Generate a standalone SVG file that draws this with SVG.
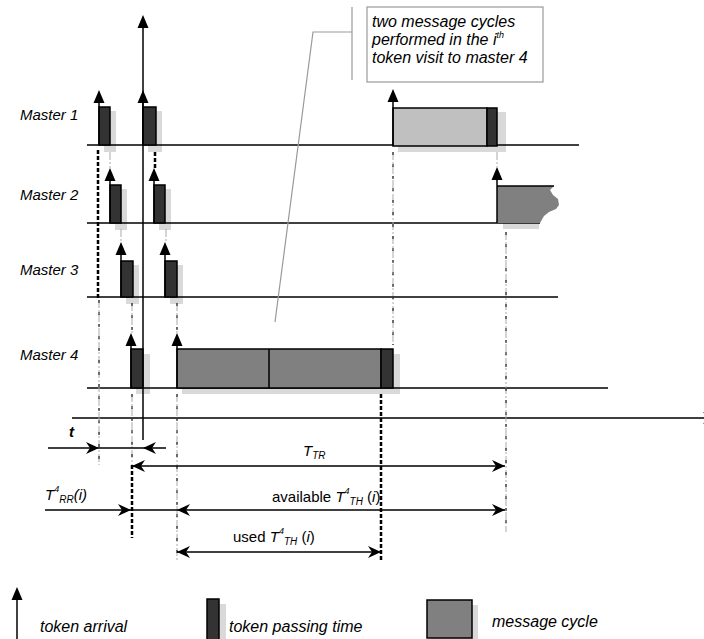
<svg xmlns="http://www.w3.org/2000/svg" width="704" height="639" viewBox="0 0 704 639">
<style>
.tl{stroke:#000;stroke-width:1.6;fill:none}
.ln{stroke:#000;stroke-width:1.5;fill:none}
.dk{fill:#333;stroke:#000;stroke-width:1.5}
.mc{fill:#808080;stroke:#000;stroke-width:1.5}
.lt{fill:#c0c0c0;stroke:#000;stroke-width:1.5}
.sh{fill:#d9d9d9}
.dd{stroke:#aaa;stroke-width:1;stroke-dasharray:8 2 2 2;fill:none}
.dk2{stroke:#000;stroke-width:1;stroke-dasharray:3 9;fill:none}
.tk{stroke:#000;stroke-width:2.5;stroke-dasharray:4 2;fill:none}
.gr{stroke:#999;stroke-width:1.2;fill:none}
.t{font-family:"Liberation Sans",Arial,sans-serif;font-style:italic;font-size:15px;fill:#000}
.n{font-family:"Liberation Sans",Arial,sans-serif;font-size:15px;fill:#000}
.c{font-size:16px}
.sub{font-size:10px}
.sup{font-size:9px}
</style>
<defs>
<path id="ta" d="M0,0 L-5.5,13 L5.5,13 Z" fill="#000"/>
<path id="ah" d="M0,0 L-13,-6 L-9,0 L-13,6 Z" fill="#000"/>
</defs>

<g id="master1">
<text class="t" x="20" y="120">Master 1</text>
<rect class="sh" x="104" y="111" width="12" height="41"/>
<rect class="sh" x="148" y="111" width="14" height="41"/>
<rect class="sh" x="398" y="112" width="108" height="40"/>
<line class="tl" x1="87" y1="145" x2="579" y2="145"/>
<rect class="dk" x="99" y="107" width="11" height="38"/>
<rect class="dk" x="143" y="107" width="13" height="38"/>
<rect class="lt" x="393" y="108" width="94" height="38"/>
<rect class="dk" x="487" y="108" width="10" height="38"/>
<line class="ln" x1="99" y1="145" x2="99" y2="101"/><use href="#ta" x="99" y="90"/>
<line class="ln" x1="143" y1="145" x2="143" y2="101"/><use href="#ta" x="143" y="90"/>
<line class="ln" x1="393" y1="146" x2="393" y2="100"/><use href="#ta" x="393" y="89"/>
</g>

<g id="master2">
<text class="t" x="20" y="200">Master 2</text>
<rect class="sh" x="115" y="189" width="12" height="41"/>
<rect class="sh" x="159" y="189" width="12" height="41"/>
<rect class="sh" x="503" y="223" width="36" height="6"/>
<line class="tl" x1="87" y1="223" x2="540" y2="223"/>
<rect class="dk" x="110" y="185" width="11" height="38"/>
<rect class="dk" x="154" y="185" width="11" height="38"/>
<path d="M497,186 L554,186 L550,190 L553,195 L558,199 L559,205 L556,209 L549,212 L544,216 L540,223 L497,223 Z" fill="#808080"/>
<line class="ln" x1="497" y1="186" x2="554" y2="186"/>
<line class="ln" x1="110" y1="223" x2="110" y2="179"/><use href="#ta" x="110" y="168"/>
<line class="ln" x1="154" y1="223" x2="154" y2="179"/><use href="#ta" x="154" y="168"/>
<line class="ln" x1="497" y1="223" x2="497" y2="178"/><use href="#ta" x="497" y="167"/>
</g>

<g id="master3">
<text class="t" x="20" y="275">Master 3</text>
<rect class="sh" x="126" y="265" width="13" height="39"/>
<rect class="sh" x="170" y="265" width="13" height="39"/>
<line class="tl" x1="87" y1="297" x2="558" y2="297"/>
<rect class="dk" x="121" y="261" width="12" height="36"/>
<rect class="dk" x="165" y="261" width="12" height="36"/>
<line class="ln" x1="121" y1="297" x2="121" y2="253"/><use href="#ta" x="121" y="242"/>
<line class="ln" x1="165" y1="297" x2="165" y2="253"/><use href="#ta" x="165" y="242"/>
</g>

<g id="master4">
<text class="t" x="20" y="360">Master 4</text>
<rect class="sh" x="136" y="354" width="14" height="40"/>
<rect class="sh" x="182" y="354" width="218" height="40"/>
<line class="tl" x1="87" y1="388" x2="608" y2="388"/>
<rect class="dk" x="131" y="349" width="12" height="39"/>
<rect class="mc" x="177" y="349" width="204" height="39"/>
<line class="ln" x1="269" y1="349" x2="269" y2="388"/>
<rect class="dk" x="381" y="349" width="12" height="39"/>
<line class="ln" x1="131" y1="388" x2="131" y2="344"/><use href="#ta" x="131" y="333"/>
<line class="ln" x1="177" y1="388" x2="177" y2="344"/><use href="#ta" x="177" y="333"/>
</g>

<g id="callout">
<line class="gr" x1="352" y1="7" x2="352" y2="80"/>
<rect x="367" y="7" width="176" height="75" fill="#fff" stroke="#999" stroke-width="1.2"/>
<text class="t c" x="372" y="27">two message cycles</text>
<text class="t c" x="372" y="45">performed in the i<tspan class="sup" dy="-7">th</tspan></text>
<text class="t c" x="372" y="63">token visit to master 4</text>
</g>

<g id="connectors">
<polyline class="gr" points="352,32 313,32 275,322"/>
<line class="tl" x1="72" y1="418" x2="710" y2="418"/>
<use href="#ah" x="716" y="418"/>
<line class="ln" x1="143" y1="440" x2="143" y2="26"/>
<use href="#ta" x="143" y="15"/>
<line class="tk" x1="98" y1="150" x2="98" y2="300"/>
<line class="dd" x1="99" y1="300" x2="99" y2="465"/><line class="dk2" x1="99" y1="300" x2="99" y2="465"/>
<line class="dd" x1="110" y1="152" x2="110" y2="168"/>
<line class="dd" x1="121" y1="229" x2="121" y2="243"/>
<line class="dd" x1="132" y1="303" x2="132" y2="333"/><line class="dk2" x1="132" y1="303" x2="132" y2="333"/>
<line class="dd" x1="132" y1="394" x2="132" y2="465"/><line class="dk2" x1="132" y1="394" x2="132" y2="465"/>
<line class="tk" x1="132" y1="465" x2="132" y2="538"/>
<line class="tk" x1="155" y1="152" x2="155" y2="168"/>
<line class="dd" x1="166" y1="229" x2="166" y2="243"/>
<line class="dd" x1="177" y1="303" x2="177" y2="333"/><line class="dk2" x1="177" y1="303" x2="177" y2="333"/>
<line class="dd" x1="177" y1="394" x2="177" y2="560"/><line class="dk2" x1="177" y1="394" x2="177" y2="560"/>
<line class="tk" x1="381" y1="394" x2="381" y2="560"/>
<line class="dd" x1="393" y1="152" x2="393" y2="345"/><line class="dk2" x1="393" y1="152" x2="393" y2="345"/>
<line class="dd" x1="497" y1="152" x2="497" y2="167"/>
<line class="dd" x1="506" y1="232" x2="506" y2="532"/><line class="dk2" x1="506" y1="232" x2="506" y2="532"/>
<line class="ln" x1="48" y1="448" x2="166" y2="448"/>
<use href="#ah" x="99" y="448"/>
<use href="#ah" transform="translate(143,448) rotate(180)"/>
<line class="ln" x1="132" y1="466" x2="505" y2="466"/>
<use href="#ah" transform="translate(132,466) rotate(180)"/>
<use href="#ah" x="505" y="466"/>
<line class="ln" x1="45" y1="510" x2="505" y2="510"/>
<use href="#ah" x="131" y="510"/>
<use href="#ah" transform="translate(177,510) rotate(180)"/>
<use href="#ah" x="505" y="510"/>
<line class="ln" x1="177" y1="552" x2="381" y2="552"/>
<use href="#ah" transform="translate(177,552) rotate(180)"/>
<use href="#ah" x="381" y="552"/>
</g>

<g id="labels">
<text class="t" x="69" y="437" font-weight="bold">t</text>
<text class="t" x="303" y="456">T<tspan class="sub" dy="3">TR</tspan></text>
<text class="t" x="45" y="500">T<tspan class="sup" dy="-8">4</tspan><tspan class="sub" dy="11">RR</tspan><tspan dy="-3">(i)</tspan></text>
<text class="n" x="272" y="502">available <tspan class="t">T</tspan><tspan class="t sup" dy="-8">4</tspan><tspan class="t sub" dy="11">TH</tspan><tspan dy="-3"> (</tspan><tspan class="t">i</tspan>)</text>
<text class="n" x="233" y="542">used <tspan class="t">T</tspan><tspan class="t sup" dy="-8">4</tspan><tspan class="t sub" dy="11">TH</tspan><tspan dy="-3"> (</tspan><tspan class="t">i</tspan>)</text>
</g>

<g id="legend">
<line class="ln" x1="17" y1="639" x2="17" y2="598"/><use href="#ta" x="17" y="587"/>
<text class="t c" x="40" y="632">token arrival</text>
<rect class="sh" x="212" y="604" width="14" height="40"/>
<rect class="dk" x="207" y="599" width="12" height="42"/>
<text class="t c" x="229" y="632">token passing time</text>
<rect class="sh" x="432" y="605" width="46" height="38"/>
<rect class="mc" x="427" y="600" width="45" height="38"/>
<text class="t c" x="492" y="627">message cycle</text>
</g>
</svg>
